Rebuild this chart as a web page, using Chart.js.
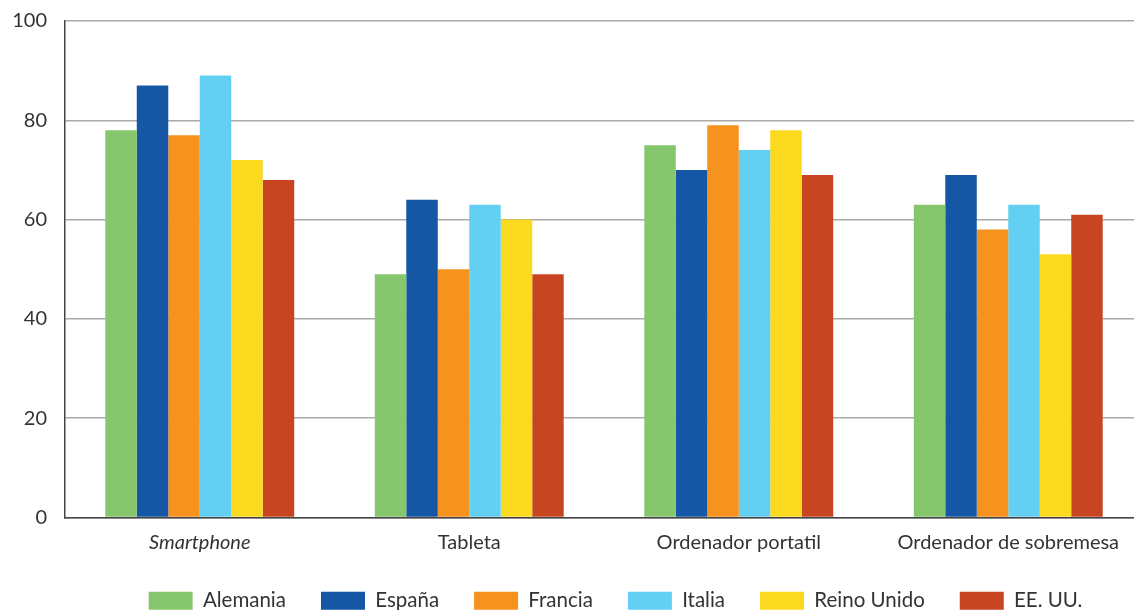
<!DOCTYPE html>
<html>
<head>
<meta charset="utf-8">
<script src="https://cdn.jsdelivr.net/npm/chart.js@4.4.1/dist/chart.umd.min.js"></script>
<style>
  html, body { margin: 0; padding: 0; background: #fff; overflow: hidden; }
  #wrap { position: relative; width: 1143px; height: 633px; }
</style>
</head>
<body>
<div id="wrap"><canvas id="chart"></canvas></div>
<script>
  // Data
  const categories = ["Smartphone", "Tableta", "Ordenador portatil", "Ordenador de sobremesa"];
  const countries = ["Alemania", "España", "Francia", "Italia", "Reino Unido", "EE. UU."];
  const colors = ["#86c76d", "#1556a5", "#f6921e", "#63cff3", "#fbd91f", "#c84521"];
  const alemania = [78, 49, 75, 63];
  const espana = [87, 64, 70, 69];
  const francia = [77, 50, 79, 58];
  const italia = [89, 63, 74, 63];
  const reinoUnido = [72, 60, 78, 53];
  const eeuu = [68, 49, 69, 61];
  const yTicks = [0, 20, 40, 60, 80, 100];

  const series = [alemania, espana, francia, italia, reinoUnido, eeuu];

  // legend sits a bit right of centre and close under the labels in the original
  const legendShift = {
    id: "legendShift",
    afterLayout(chart) {
      chart.legend.left += 44;
      chart.legend.right += 44;
      chart.legend.top -= 12;
      chart.legend.bottom -= 12;
    },
  };

  const ctx = document.getElementById("chart").getContext("2d");
  const chart = new Chart(ctx, {
    type: "bar",
    data: {
      labels: categories,
      datasets: series.map((values, i) => ({
        label: countries[i],
        data: values,
        backgroundColor: colors[i],
        borderWidth: 0,
        categoryPercentage: 0.701,
        barPercentage: 1.0,
      })),
    },
    options: {
      responsive: true,
      maintainAspectRatio: false,
      animation: false,
      plugins: {
        tooltip: { enabled: false },
        legend: {
          position: "bottom",
          labels: {
            color: "#333",
            font: { family: "Lato", size: 20.5 },
            boxWidth: 44,
            boxHeight: 18,
            padding: 35,
          },
        },
      },
      scales: {
        x: {
          grid: { display: false, drawTicks: false },
          border: { color: "#444", width: 1.5 },
          ticks: {
            color: "#333",
            padding: 13,
            font: (c) => ({
              family: "Lato",
              size: 20,
              style: c.index === 0 ? "italic" : "normal",
            }),
          },
        },
        y: {
          min: 0,
          max: 100,
          afterFit: (axis) => {
            axis.width = 65;
            axis.paddingTop = 21;
          },
          afterBuildTicks: (axis) => {
            axis.ticks = yTicks.map((v) => ({ value: v }));
          },
          grid: { color: "#aaa", lineWidth: 1.5, drawTicks: false },
          border: { color: "#444", width: 1.5 },
          ticks: {
            color: "#333",
            padding: 18,
            font: { family: "Lato", size: 20 },
          },
        },
      },
    },
    plugins: [legendShift],
  });
</script>
</body>
</html>
